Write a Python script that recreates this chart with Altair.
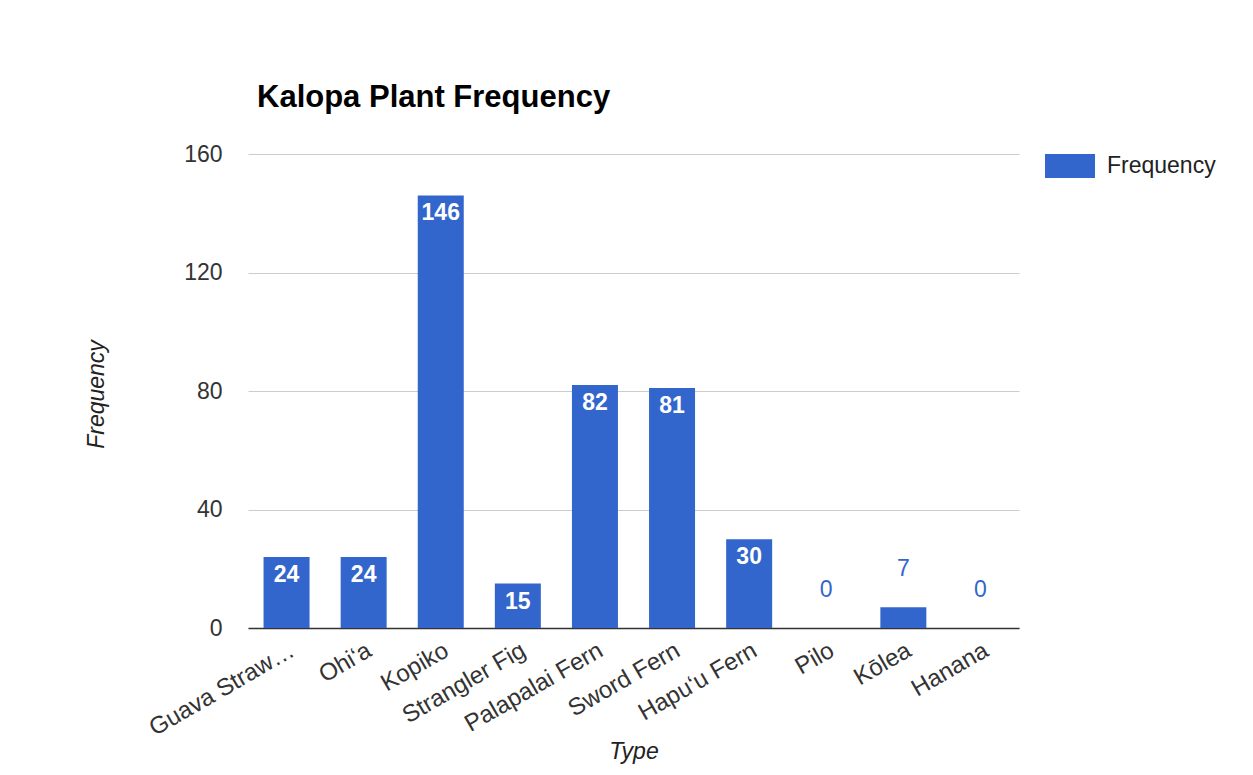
import altair as alt
import pandas as pd

categories = ["Guava Straw…", "Ohi‘a", "Kopiko", "Strangler Fig", "Palapalai Fern",
              "Sword Fern", "Hapu‘u Fern", "Pilo", "Kōlea", "Hanana"]
frequency = [24, 24, 146, 15, 82, 81, 30, 0, 7, 0]
y_ticks = [0, 40, 80, 120, 160]

df = pd.DataFrame({"Type": categories, "Frequency": frequency, "series": "Frequency"})

FONT = "Liberation Sans"
BLUE = "#3366cc"

x_enc = alt.X("Type:N", sort=None,
              scale=alt.Scale(paddingInner=0.4, paddingOuter=0.2),
              axis=alt.Axis(title="Type", labelAngle=330, labelAlign="right", labelBaseline="top",
                            labelPadding=10, labelFontSize=24, labelColor="#333", labelFont=FONT,
                            ticks=False, domainColor="#333", domainWidth=1.5,
                            titleFont=FONT, titleFontSize=23, titleFontStyle="italic",
                            titleFontWeight="normal", titleColor="#222",
                            titleY=112, titleBaseline="top", labelLimit=400))
y_scale = alt.Scale(domain=[0, 160], nice=False)

bars = alt.Chart(df).mark_bar(size=46).encode(
    x=x_enc,
    y=alt.Y("Frequency:Q", scale=y_scale,
            axis=alt.Axis(title="Frequency", values=y_ticks, grid=True, gridColor="#cccccc",
                          domain=False, ticks=False, labelPadding=26, labelFontSize=23,
                          labelColor="#333", labelFont=FONT,
                          titleFont=FONT, titleFontSize=23, titleFontStyle="italic",
                          titleFontWeight="normal", titleColor="#222",
                          titleX=-140, titleY=240)),
    color=alt.Color("series:N", scale=alt.Scale(range=[BLUE]),
                    legend=alt.Legend(title=None, orient="none", legendX=797, legendY=-13,
                                      symbolType="M-1,-0.48H1V0.48H-1Z", symbolSize=2500,
                                      symbolStrokeWidth=0, symbolOpacity=1,
                                      labelFontSize=23, labelFont=FONT, labelColor="#222",
                                      labelOffset=12, padding=0)),
)

inside = alt.Chart(df).transform_filter("datum.Frequency >= 10").mark_text(
    baseline="middle", dy=18, fontSize=23, fontWeight="bold", color="white", font=FONT
).encode(x=alt.X("Type:N", sort=None), y=alt.Y("Frequency:Q", scale=y_scale),
         text="Frequency:Q")

outside = alt.Chart(df).transform_filter("datum.Frequency < 10").mark_text(
    baseline="middle", dy=-38, fontSize=23, color=BLUE, font=FONT
).encode(x=alt.X("Type:N", sort=None), y=alt.Y("Frequency:Q", scale=y_scale),
         text="Frequency:Q")

chart = alt.layer(bars, inside, outside).properties(
    width=771, height=474,
    title=alt.TitleParams("Kalopa Plant Frequency", anchor="start", frame="group",
                          font=FONT, fontSize=31, fontWeight="bold", color="#000",
                          baseline="alphabetic", offset=3, dx=9),
    autosize=alt.AutoSizeParams(type="none"),
    padding={"left": 240, "top": 146, "right": 220, "bottom": 139},
).configure(background="white").configure_view(strokeWidth=0, stroke="transparent")

chart.save("out.html", embed_options={"renderer": "svg", "actions": False})
